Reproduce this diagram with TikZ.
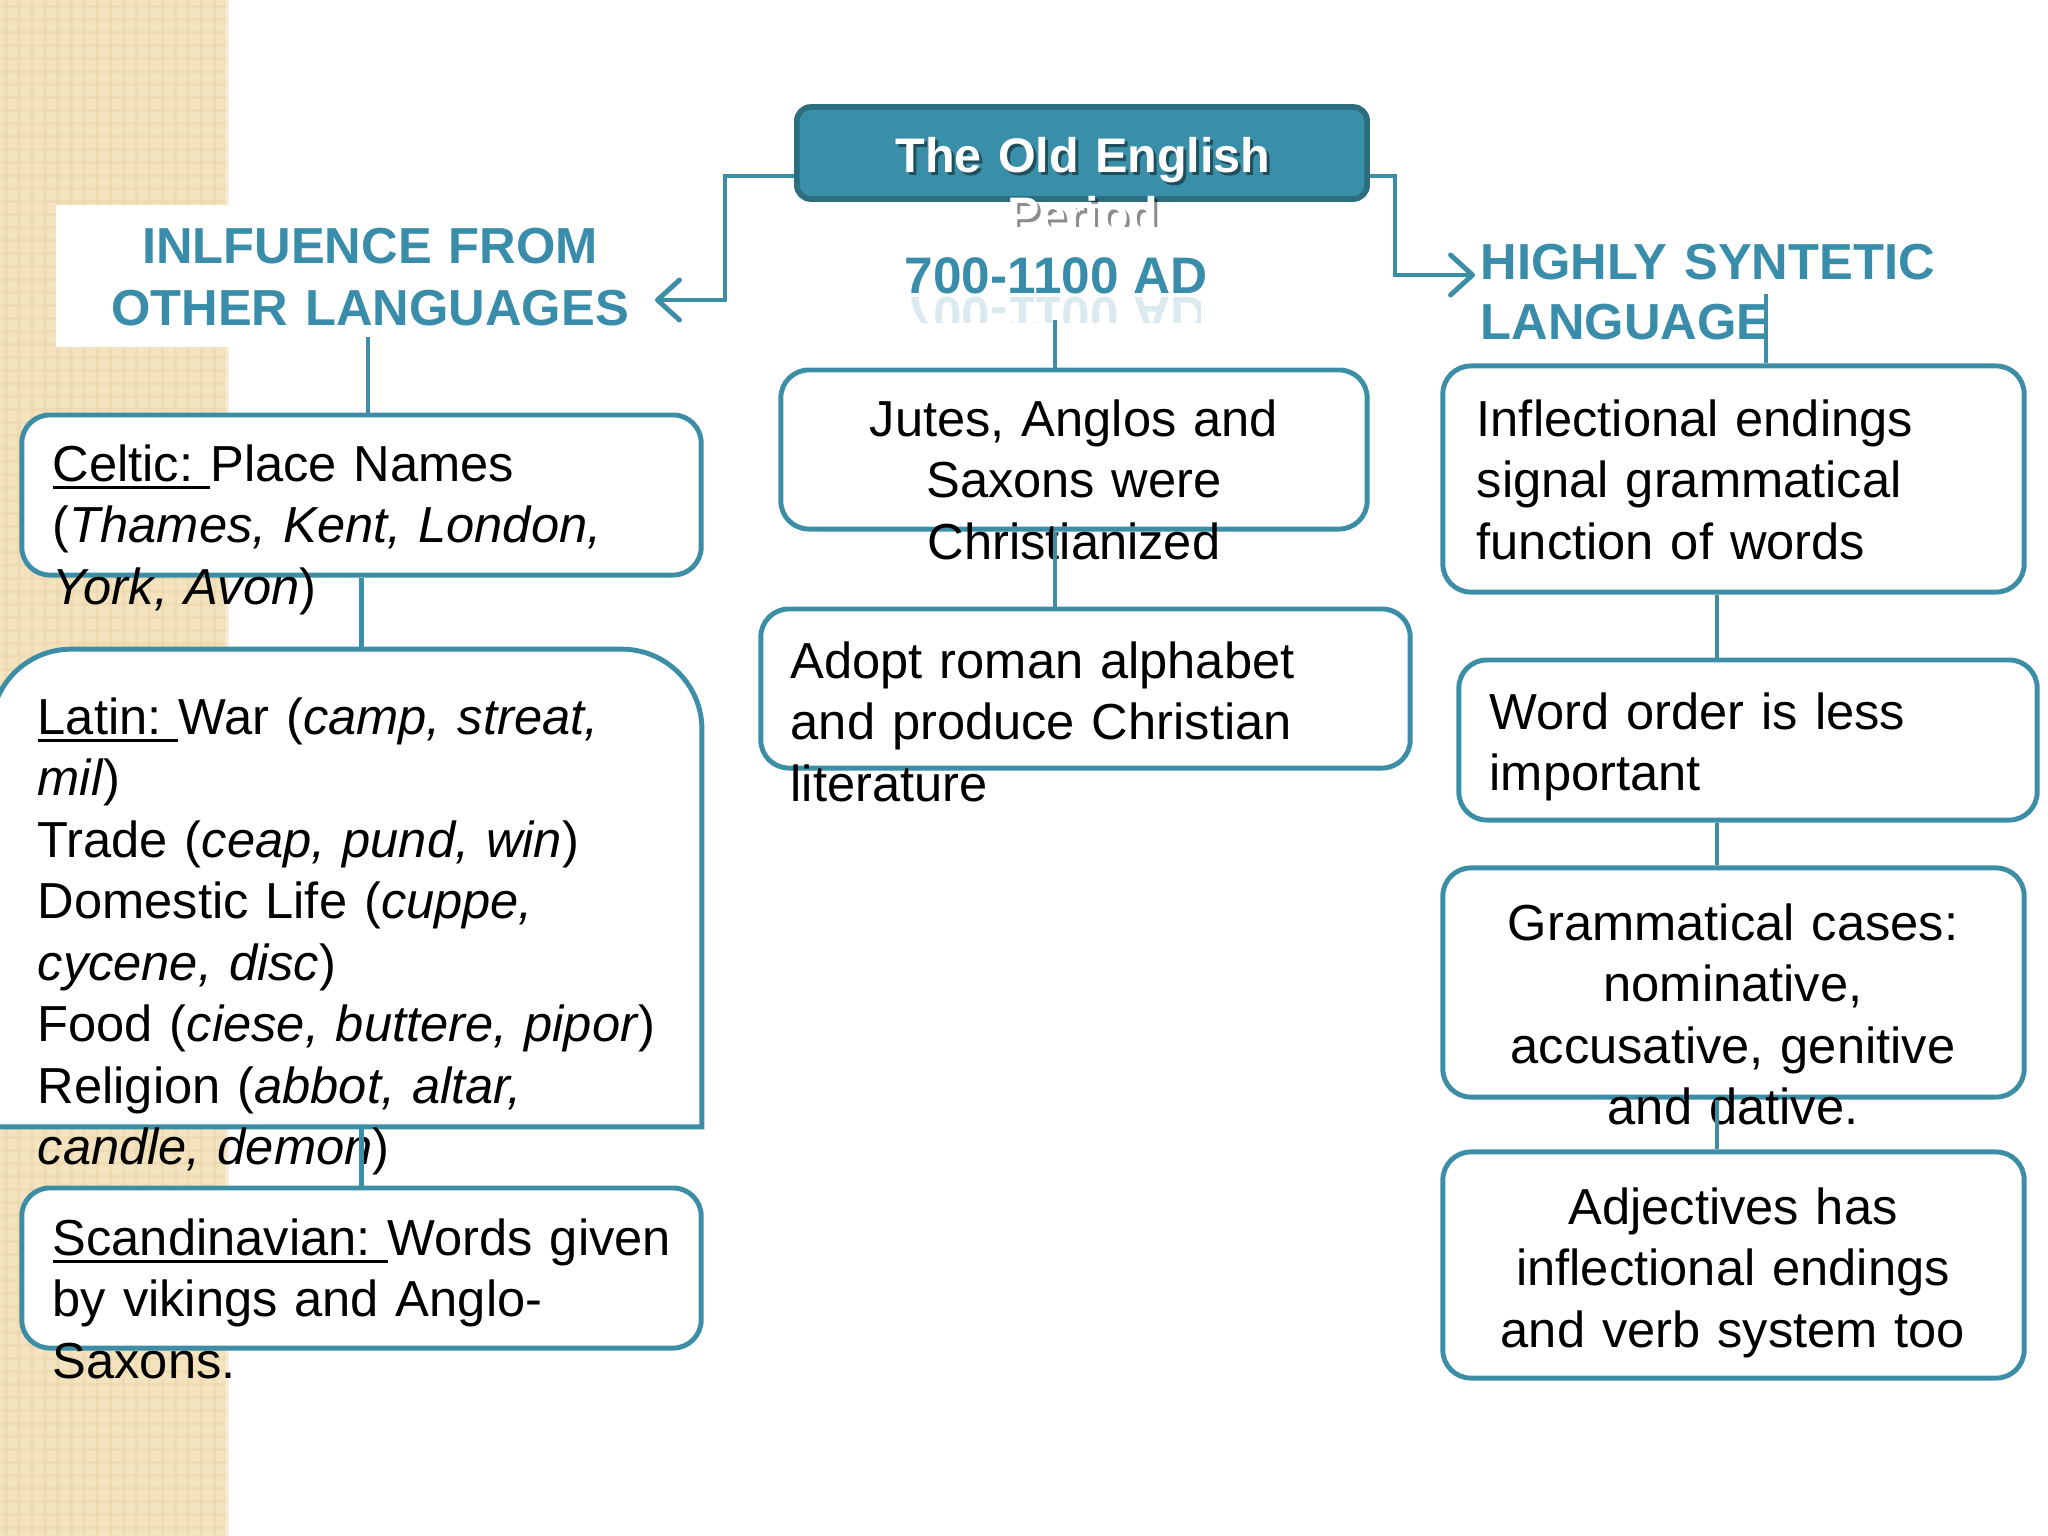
\documentclass[tikz,border=0pt]{standalone}
\usepackage{fontspec}
\setmainfont{Liberation Sans}
\usetikzlibrary{arrows.meta}
\definecolor{teal1}{HTML}{3B8EA5}
\definecolor{tealdark}{HTML}{2C6E80}
\definecolor{tealfill}{HTML}{3A8FA8}
\definecolor{headteal}{HTML}{3A8DAA}
\definecolor{beige}{HTML}{F3E3BF}
\definecolor{beigeline}{HTML}{E9D3A6}
\newcommand\bodyfont{\fontsize{14.4}{17.5}\selectfont}
\newcommand\headfont{\fontsize{14.4}{17.9}\selectfont\bfseries}
\newcommand\titlefont{\fontsize{13.8}{17}\selectfont\bfseries}
\newcommand\datefont{\fontsize{14.6}{17}\selectfont\bfseries}
\newcommand\myul[1]{\setbox0\hbox{#1}\rlap{\rule[-2.4pt]{\wd0}{0.9pt}}\box0}
\tikzset{
  box/.style={draw=teal1, line width=1.4pt, fill=white, rounded corners=0.28cm, inner sep=0},
  conn/.style={draw=teal1, line width=1.4pt},
  arr/.style={conn, -{Straight Barb[length=0.22cm, width=0.4cm, round, line width=1.4pt]}},
  ltxt/.style={anchor=base west, inner sep=0, text width=9cm, align=left, font=\bodyfont},
  ctxt/.style={anchor=base, inner sep=0, text width=9cm, align=center, font=\bodyfont},
}
\begin{document}
\begin{tikzpicture}[x=0.01cm, y=-0.01cm]
\useasboundingbox (0,0) rectangle (2048,1536);
\clip (0,0) rectangle (2048,1536);
\fill[white] (0,0) rectangle (2048,1536);
% beige strip
\fill[beige] (0,0) rectangle (226,1536);
\foreach \i in {0,...,17} \draw[beigeline, line width=0.03cm, opacity=0.4] (\i*13+6,0) -- (\i*13+6,1536);
\foreach \j in {0,...,118} \draw[beigeline, line width=0.03cm, opacity=0.4] (0,\j*13+6) -- (226,\j*13+6);
\fill[white] (56,205) rectangle (300,347);

% title box
\node[draw=tealdark, fill=tealfill, line width=1.6pt, rounded corners=0.14cm,
      minimum width=5.7cm, minimum height=0.92cm, inner sep=0] (title) at (1082,153) {};
\begin{scope}
  \clip (700,100) rectangle (1450,226);
  \node[ctxt, font=\titlefont, text=black, opacity=0.45] at (1086,175) {The Old English\\Period};
  \node[ctxt, font=\titlefont, text=white] (titletxt) at (1083,172) {The Old English\\Period};
\end{scope}

% dates
\node[anchor=base, inner sep=0, font=\datefont, text=headteal] (dates) at (1056,293) {700-1100 AD};
\begin{scope}
  \clip (900,296) rectangle (1200,322);
  \begin{scope}[shift={(1056,297)}, yscale=-1]
    \node[transform shape, anchor=base, inner sep=0, font=\datefont, text=headteal, opacity=0.18] at (0,0) {700-1100 AD};
  \end{scope}
\end{scope}

% headers
\node[anchor=base, inner sep=0, text width=9cm, align=center, font=\headfont, text=headteal] (lhead) at (370,263) {INLFUENCE FROM\\OTHER LANGUAGES};
\node[anchor=base west, inner sep=0, text width=9cm, align=left, font=\fontsize{14.4}{17.1}\selectfont\bfseries, text=headteal] (rhead) at (1480,279) {HIGHLY SYNTETIC\\LANGUAGE};

% boxes
\node[box, minimum width=6.79cm, minimum height=1.60cm] (celtic) at (361.5,495) {};
\node[inner sep=0, minimum width=7.09cm, minimum height=4.76cm] (latin) at (346.5,888) {};
\draw[draw=teal1, line width=1.4pt, fill=white] (latin.south west) [rounded corners=0.8cm] -- (latin.north west) -- (latin.north east) [sharp corners] -- (latin.south east) -- cycle;
\node[box, minimum width=6.79cm, minimum height=1.60cm] (scand) at (361.5,1268) {};
\node[box, minimum width=5.86cm, minimum height=1.59cm] (jutes) at (1074,449.5) {};
\node[box, minimum width=6.49cm, minimum height=1.59cm] (adopt) at (1085.5,688.5) {};
\node[box, minimum width=5.81cm, minimum height=2.26cm] (infl) at (1733.5,479) {};
\node[box, minimum width=5.78cm, minimum height=1.60cm] (word) at (1748,740) {};
\node[box, minimum width=5.81cm, minimum height=2.29cm] (gram) at (1733.5,982.5) {};
\node[box, minimum width=5.81cm, minimum height=2.26cm] (adj) at (1733.5,1265) {};

% texts
\node[ltxt] (celtictxt) at (52,481) {\myul{Celtic:\ }Place Names\\(\textit{Thames, Kent, London,}\\\textit{York, Avon})};
\node[ltxt] (latintxt) at (37,734) {\myul{Latin:\ }War (\textit{camp, streat,}\\\textit{mil})\\Trade (\textit{ceap, pund, win})\\Domestic Life (\textit{cuppe,}\\\textit{cycene, disc})\\Food (\textit{ciese, buttere, pipor})\\Religion (\textit{abbot, altar,}\\\textit{candle, demon})};
\node[ltxt] (scandtxt) at (52,1255) {\myul{Scandinavian:\ }Words given\\by vikings and Anglo-\\Saxons.};
\node[ctxt] (jutestxt) at (1074,436) {Jutes, Anglos and\\Saxons were\\Christianized};
\node[ltxt] (adopttxt) at (790,678) {Adopt roman alphabet\\and produce Christian\\literature};
\node[ltxt] (infltxt) at (1476,436) {Inflectional endings\\signal grammatical\\function of words};
\node[ltxt] (wordtxt) at (1489,729) {Word order is less\\important};
\node[ctxt] (gramtxt) at (1733,940) {Grammatical cases:\\nominative,\\accusative, genitive\\and dative.};
\node[ctxt] (adjtxt) at (1733,1224) {Adjectives has\\inflectional endings\\and verb system too};

% connectors
\coordinate (lbend) at (725,300);
\coordinate (ltip) at (655,300);
\coordinate (rbend) at (1395,275);
\coordinate (rtip) at (1475,275);
\draw[arr] ([yshift=-0.23cm]title.west) -| (lbend) -- (ltip);
\draw[arr] ([yshift=-0.23cm]title.east) -| (rbend) -- (rtip);
\coordinate (cx) at (1055,320);
\draw[conn] (cx) -- (cx |- jutes.north);
\draw[conn] (jutes.south -| cx) -- (adopt.north -| cx);
\coordinate (lx) at (368,337);
\draw[conn] (lx) -- (lx |- celtic.north);
\draw[conn] (celtic.south) -- (celtic.south |- latin.north);
\draw[conn] (latin.south -| scand.north) -- (scand.north);
\coordinate (hx) at (1766,294);
\draw[conn] (hx) -- (hx |- infl.north);
\coordinate (rx) at (1717,0);
\draw[conn] (infl.south -| rx) -- (word.north -| rx);
\draw[conn] (word.south -| rx) -- (gram.north -| rx);
\draw[conn] (gram.south -| rx) -- (adj.north -| rx);
\end{tikzpicture}
\end{document}
